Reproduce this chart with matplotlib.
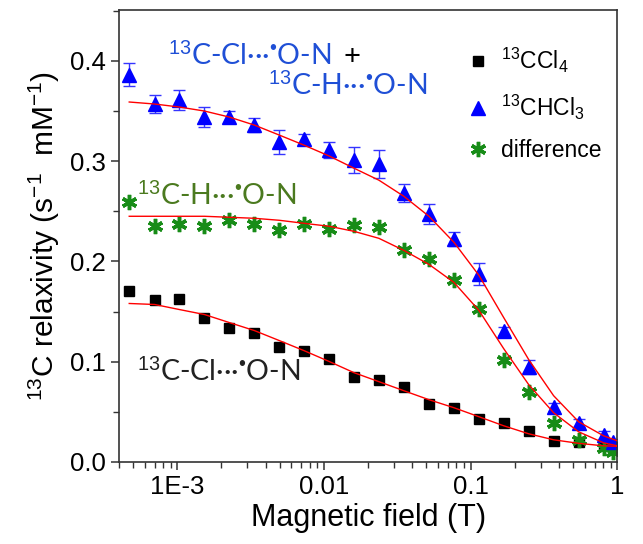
import numpy as np
import matplotlib
matplotlib.use("Agg")
import matplotlib.pyplot as plt
from matplotlib.ticker import FixedLocator, NullFormatter, MultipleLocator, LogLocator

plt.rcParams['font.family'] = ['Liberation Sans', 'DejaVu Sans']
plt.rcParams['mathtext.fontset'] = 'custom'
plt.rcParams['mathtext.rm'] = 'Liberation Sans'
plt.rcParams['mathtext.it'] = 'Liberation Sans:italic'
plt.rcParams['mathtext.bf'] = 'Liberation Sans:bold'

# measured points (field in T)
field = [4.7e-4, 7.0e-4, 1.03e-3, 1.53e-3, 2.26e-3, 3.35e-3, 4.96e-3, 7.3e-3,
         1.09e-2, 1.6e-2, 2.37e-2, 3.5e-2, 5.2e-2, 7.7e-2, 0.114, 0.168,
         0.249, 0.368, 0.545, 0.806, 0.93]
ccl4 = [0.170, 0.161, 0.162, 0.144, 0.134, 0.129, 0.115, 0.111, 0.103, 0.085,
        0.082, 0.075, 0.058, 0.054, 0.043, 0.039, 0.031, 0.021, 0.020, 0.017, 0.015]
chcl3 = [0.386, 0.357, 0.361, 0.344, 0.344, 0.336, 0.319, 0.322, 0.311, 0.301,
         0.297, 0.268, 0.247, 0.222, 0.187, 0.131, 0.095, 0.055, 0.039, 0.027, 0.020]
chcl3_err = [0.0115, 0.009, 0.010, 0.010, 0.006, 0.007, 0.012, 0.005, 0.008, 0.013,
             0.014, 0.009, 0.010, 0.007, 0.011, 0.004, 0.007, 0.004, 0.004, 0.004, 0.003]
diff = [0.259, 0.235, 0.237, 0.235, 0.241, 0.237, 0.231, 0.237, 0.232, 0.236,
        0.234, 0.211, 0.202, 0.181, 0.152, 0.102, 0.070, 0.039, 0.022, 0.014, 0.010]

# fitted curves
fit_x = [4.7e-4, 7.0e-4, 1.03e-3, 1.53e-3, 2.26e-3, 3.35e-3, 4.96e-3, 7.3e-3,
         1.09e-2, 1.6e-2, 2.37e-2, 3.5e-2, 5.2e-2, 7.7e-2, 0.114, 0.168,
         0.249, 0.368, 0.545, 0.806, 1.0]
fit_ccl4 = [0.158, 0.157, 0.152, 0.147, 0.139, 0.131, 0.121, 0.111,
            0.100, 0.089, 0.080, 0.071, 0.062, 0.054, 0.045, 0.036,
            0.028, 0.022, 0.0185, 0.016, 0.0155]
fit_chcl3 = [0.359, 0.357, 0.354, 0.350, 0.344, 0.336, 0.326, 0.316,
             0.305, 0.293, 0.281, 0.265, 0.245, 0.219, 0.186, 0.144,
             0.102, 0.066, 0.040, 0.026, 0.021]
fit_diff = [0.245, 0.245, 0.245, 0.245, 0.244, 0.243, 0.241, 0.238,
            0.235, 0.230, 0.223, 0.211, 0.197, 0.179, 0.151, 0.113,
            0.077, 0.049, 0.030, 0.019, 0.016]

xticks = [1e-3, 1e-2, 1e-1, 1]
xtick_labels = ['1E-3', '0.01', '0.1', '1']
yticks = [0.0, 0.1, 0.2, 0.3, 0.4]
ytick_labels = ['0.0', '0.1', '0.2', '0.3', '0.4']

blue_txt = '#1f4fd6'
green_txt = '#4b7a1f'
ann_font = ['Lato', 'DejaVu Sans']

fig = plt.figure(figsize=(6.43, 5.44), dpi=100)
ax = fig.add_axes([0.185, 0.151, 0.775, 0.831])

h1, = ax.plot(field, ccl4, 's', color='black', ms=7.5, zorder=2)
h2 = ax.errorbar(field, chcl3, yerr=chcl3_err, fmt='^', color='blue', ms=10,
                 ecolor='#3535ff', elinewidth=1, capsize=4, capthick=1, zorder=2)
h3, = ax.plot(field, diff, ls='none', marker=(6, 2, 0), color='#178c17', ms=11, mew=2.5,
              zorder=2)

for fy in [fit_ccl4, fit_chcl3, fit_diff]:
    ax.plot(fit_x, fy, '-', color='red', lw=1, zorder=3)

ax.set_xscale('log')
ax.set_xlim(4e-4, 1)
ax.set_ylim(0, 0.451)
ax.xaxis.set_major_locator(FixedLocator(xticks))
ax.set_xticklabels(xtick_labels)
ax.xaxis.set_minor_locator(LogLocator(base=10, subs=np.arange(2, 10)))
ax.xaxis.set_minor_formatter(NullFormatter())
ax.yaxis.set_major_locator(FixedLocator(yticks))
ax.yaxis.set_minor_locator(MultipleLocator(0.05))
ax.set_yticklabels(ytick_labels)
ax.tick_params(which='major', direction='out', length=6, width=1.1, labelsize=18.5,
               color='#333333')
ax.tick_params(which='minor', direction='out', length=4, width=1.0, color='#333333')
for sp in ax.spines.values():
    sp.set_color('#333333')
    sp.set_linewidth(1.2)

ax.set_xlabel('Magnetic field (T)', fontsize=22, labelpad=3)
ax.set_ylabel('$^{13}$C relaxivity (s$^{-1}$  mM$^{-1}$)', fontsize=21.5, labelpad=6)

dots = '\u00b7\u00b7\u00b7'
ax.text(8.7e-4, 0.396, '$^{13}$C-Cl' + dots + '$^{•}$O-N', color=blue_txt, fontsize=20.5,
        family=ann_font, va='baseline')
ax.text(1.35e-2, 0.396, '+', color='black', fontsize=21, family=ann_font, va='baseline')
ax.text(4.16e-3, 0.366, '$^{13}$C-H' + dots + '$^{•}$O-N', color=blue_txt, fontsize=20.5,
        family=ann_font, va='baseline')
ax.text(5.27e-4, 0.256, '$^{13}$C-H' + dots + '$^{•}$O-N', color=green_txt, fontsize=20.5,
        family=ann_font, va='baseline')
ax.text(5.34e-4, 0.080, '$^{13}$C-Cl' + dots + '$^{•}$O-N', color='#222222', fontsize=20.5,
        family=ann_font, va='baseline')

ax.legend([h1, h2[0], h3], ['$^{13}$CCl$_4$', '$^{13}$CHCl$_3$', 'difference'],
          loc='upper left', bbox_to_anchor=(0.665, 0.955), frameon=False, fontsize=16.5,
          handletextpad=0.5, labelspacing=0.75, handlelength=1.0, borderpad=0.2)

fig.savefig('out.png', dpi=100)
